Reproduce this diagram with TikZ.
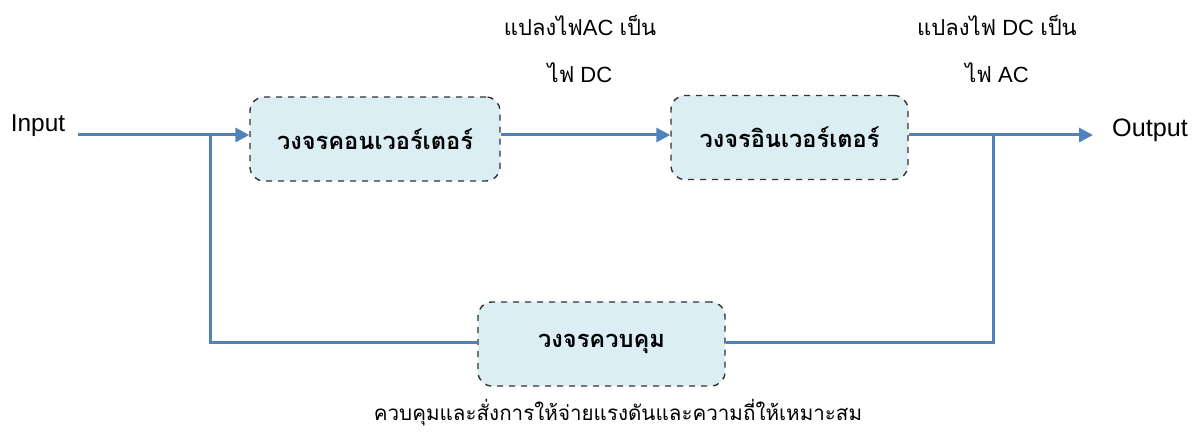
\documentclass[tikz,border=0pt]{standalone}
\usepackage{fontspec}
\setmainfont{Liberation Sans}
\newfontfamily\thf[Script=Thai]{Loma}
\usetikzlibrary{arrows.meta}
\definecolor{linecol}{HTML}{4F81BD}
\definecolor{boxfill}{HTML}{DAEEF3}
\definecolor{boxdraw}{HTML}{333333}
\tikzset{
  blk/.style={draw=boxdraw, dashed, line width=0.7pt, fill=boxfill, rounded corners=7pt,
              minimum width=#1, minimum height=42pt, inner sep=0pt, font=\thf\bfseries\fontsize{11.8}{13}\selectfont},
  wire/.style={draw=linecol, line width=1.5pt},
  arr/.style={wire, -{Triangle[length=7pt,width=7pt]}},
  lbl/.style={font=\fontsize{11}{13}\selectfont, inner sep=0pt},
}
\begin{document}
\begin{tikzpicture}[x=0.5pt,y=-0.5pt]
\useasboundingbox (0,0) rectangle (1200,432);
\node[blk=125pt] (conv) at (375,139) {วงจรคอนเวอร์เตอร์};
\node[blk=118.5pt] (inv) at (789.5,137.5) {วงจรอินเวอร์เตอร์};
\node[blk=123.5pt] (ctrl) at (601.5,344) {วงจรควบคุม};
\node[lbl, font=\fontsize{12.2}{14}\selectfont] (in) at (38,126) {Input};
\node[lbl, font=\fontsize{12.6}{14}\selectfont] (out) at (1150,130) {Output};
\node[lbl] (t1a) at (580,25) {{\thf แปลงไฟ}AC {\thf เป็น}};
\node[lbl] (t1b) at (580,73) {{\thf ไฟ} DC};
\node[lbl] (t2a) at (997,25) {{\thf แปลงไฟ} DC {\thf เป็น}};
\node[lbl] (t2b) at (997,73) {{\thf ไฟ} AC};
\node[lbl, font=\thf\fontsize{10.3}{12}\selectfont] (bot) at (618,413) {ควบคุมและสั่งการให้จ่ายแรงดันและความถี่ให้เหมาะสม};
\coordinate (s) at (78,135);
\coordinate (j1) at (210,135);
\coordinate (j1b) at (210,343);
\coordinate (j2) at (993,135);
\coordinate (j2b) at (993,343);
\coordinate (e) at (1093,135);
\draw[arr] (s) -- (conv.west |- s);
\draw[arr] (conv.east |- s) -- (inv.west |- s);
\draw[arr] (inv.east |- s) -- (e);
\draw[wire] (j1) -- (j1b) -- (ctrl.west |- j1b);
\draw[wire] (ctrl.east |- j2b) -- (j2b) -- (j2);
\end{tikzpicture}
\end{document}
